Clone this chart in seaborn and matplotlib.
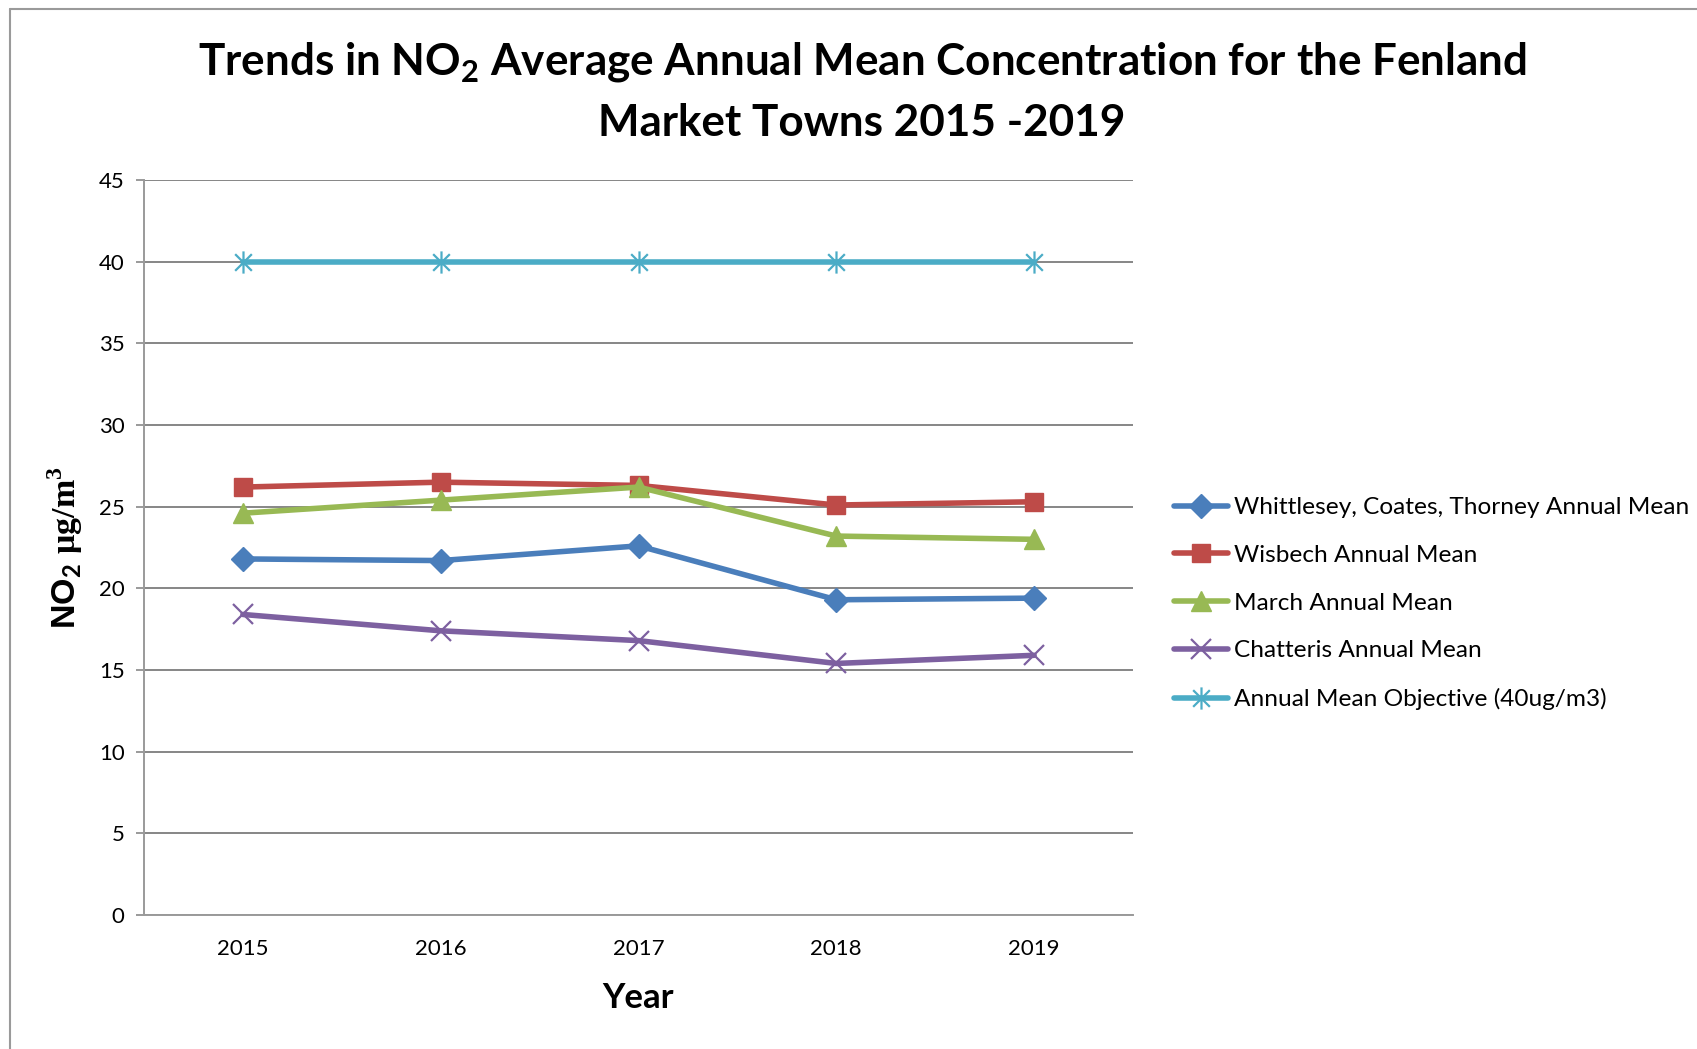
import matplotlib
matplotlib.use("Agg")
import matplotlib.pyplot as plt
import seaborn as sns
import pandas as pd
from matplotlib.path import Path
from matplotlib.lines import Line2D

years = [2015, 2016, 2017, 2018, 2019]
whittlesey = [21.8, 21.7, 22.6, 19.3, 19.4]
wisbech = [26.2, 26.5, 26.3, 25.1, 25.3]
march = [24.6, 25.4, 26.2, 23.2, 23.0]
chatteris = [18.4, 17.4, 16.8, 15.4, 15.9]
objective = [40, 40, 40, 40, 40]

labels = ["Whittlesey, Coates, Thorney Annual Mean", "Wisbech Annual Mean",
          "March Annual Mean", "Chatteris Annual Mean", "Annual Mean Objective (40ug/m3)"]
series = [whittlesey, wisbech, march, chatteris, objective]
colors = ["#4A7EBB", "#BE4B48", "#98B954", "#7D60A0", "#4BACC6"]

sns.set_theme(style="white")
plt.rcParams['font.family'] = ['Lato', 'DejaVu Sans']
plt.rcParams['mathtext.fontset'] = 'custom'
plt.rcParams['mathtext.rm'] = 'Lato'
plt.rcParams['mathtext.sf'] = 'Lato:bold'
plt.rcParams['mathtext.bf'] = 'Liberation Serif:bold'

asterisk = Path([(0, -1), (0, 1), (-0.75, -0.75), (0.75, 0.75), (-0.75, 0.75), (0.75, -0.75)],
                [Path.MOVETO, Path.LINETO, Path.MOVETO, Path.LINETO, Path.MOVETO, Path.LINETO])
markers = ["D", "s", "^", "x", asterisk]
msizes = [12, 13, 14, 14, 16]
mews = [1, 1, 1, 1.6, 1.6]

fig = plt.figure(figsize=(16.97, 10.49), dpi=100)
ax = fig.add_axes([144/1697, 1-915/1049, (1133-144)/1697, (915-180)/1049])

for lab, vals, c, m, ms, mw in zip(labels, series, colors, markers, msizes, mews):
    df = pd.DataFrame({"Year": years, "Value": vals})
    sns.lineplot(data=df, x="Year", y="Value", ax=ax, color=c, linewidth=4,
                 marker=m, markersize=ms, markeredgecolor=c, markerfacecolor=c,
                 markeredgewidth=mw, label=lab)

ax.set_xlim(2014.5, 2019.5)
ax.set_ylim(0, 45)
ax.set_xticks(years)
ax.set_xticklabels([str(y) for y in years])
ax.set_yticks(range(0, 46, 5))
ax.yaxis.grid(True, color="#868686", linewidth=1.4)
ax.set_axisbelow(True)
for s in ["top", "right"]:
    ax.spines[s].set_visible(False)
for s in ["left", "bottom"]:
    ax.spines[s].set_color("#9a9a9a")
    ax.spines[s].set_linewidth(1.4)
ax.tick_params(axis="y", which="both", left=True, length=6, width=1.4, color="#9a9a9a",
               pad=8, labelsize=16, labelcolor="black")
ax.tick_params(axis="x", bottom=False, pad=11, labelsize=16, labelcolor="black")

ax.set_xlabel("Year", fontsize=25, fontweight="bold", labelpad=17, color="black")
ax.set_ylabel(r"NO$_\mathsf{2}$ $\mathbf{μg/m}^\mathbf{3}$", fontsize=24.5, fontweight="bold",
              family=["Liberation Sans", "DejaVu Sans"], labelpad=10, color="black")

fig.text(0.508, 0.9128,
         "Trends in NO$_\\mathsf{2}$ Average Annual Mean Concentration for the Fenland\nMarket Towns 2015 -2019",
         ha="center", va="center", fontsize=31.7, fontweight="bold", linespacing=1.55, color="black")

leg = ax.legend(loc="upper left", bbox_to_anchor=(1174/1697, 1-497/1049),
                bbox_transform=fig.transFigure, frameon=False, fontsize=17.6,
                handlelength=2.2, handletextpad=0.25, labelspacing=1.09, borderpad=0,
                borderaxespad=0)
for t in leg.get_texts():
    t.set_color("black")

# outer chart frame (partially visible)
fig.add_artist(Line2D([10/1697, 1], [1-9/1049, 1-9/1049], transform=fig.transFigure,
                      color="#9a9a9a", linewidth=1.5))
fig.add_artist(Line2D([10/1697, 10/1697], [0, 1-9/1049], transform=fig.transFigure,
                      color="#9a9a9a", linewidth=1.5))

fig.savefig("out.png", dpi=100)
